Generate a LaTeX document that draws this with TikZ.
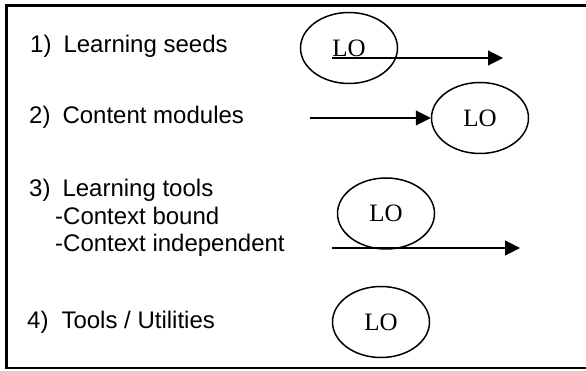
\documentclass[tikz,border=0pt]{standalone}
\usepackage{fontspec}
\setmainfont{Liberation Sans}
\newfontfamily\lofont{Liberation Serif}
\usetikzlibrary{arrows.meta,shapes.geometric}
\begin{document}
\begin{tikzpicture}[x=1pt,y=-1pt,
  lbl/.style={anchor=base west, inner sep=0pt, font=\fontsize{24}{25}\selectfont},
  lo/.style={draw, line width=1.5pt, ellipse, minimum width=97pt, minimum height=71pt, inner sep=0pt, font=\lofont\fontsize{25}{25}\selectfont},
  arr/.style={line width=1.1pt, -{Triangle[length=15pt,width=15pt]}},
  frameline/.style={line width=2.5pt}]
\useasboundingbox (0,0) rectangle (586,371);
\draw[frameline] (590,5.5) -- (6.5,5.5) -- (6.5,368) -- (590,368);

\node[lbl] (t1) at (30,52.5) {1)\hspace{12pt}Learning seeds};
\node[lbl] (t2) at (29,124) {2)\hspace{12pt}Content modules};
\node[lbl] (t3) at (29,197) {3)\hspace{12pt}Learning tools};
\node[lbl] (t3a) at (55,224.5) {-Context bound};
\node[lbl] (t3b) at (55,252) {-Context independent};
\node[lbl] (t4) at (27,328) {4)\hspace{13pt}Tools / Utilities};

\node[lo] (e1) at (349,48) {LO};
\node[lo] (e2) at (480,118) {LO};
\node[lo] (e3) at (386,213.5) {LO};
\node[lo] (e4) at (381,322) {LO};

\coordinate (a1s) at (332,58);
\coordinate (a1e) at (503,58);
\coordinate (a2s) at (310,118);
\coordinate (a3s) at (332,248);
\coordinate (a3e) at (520,248);

\draw[arr] (a1s) -- (a1e);
\draw[arr] (a2s) -- (e2.west);
\draw[arr] (a3s) -- (a3e);
\end{tikzpicture}
\end{document}
